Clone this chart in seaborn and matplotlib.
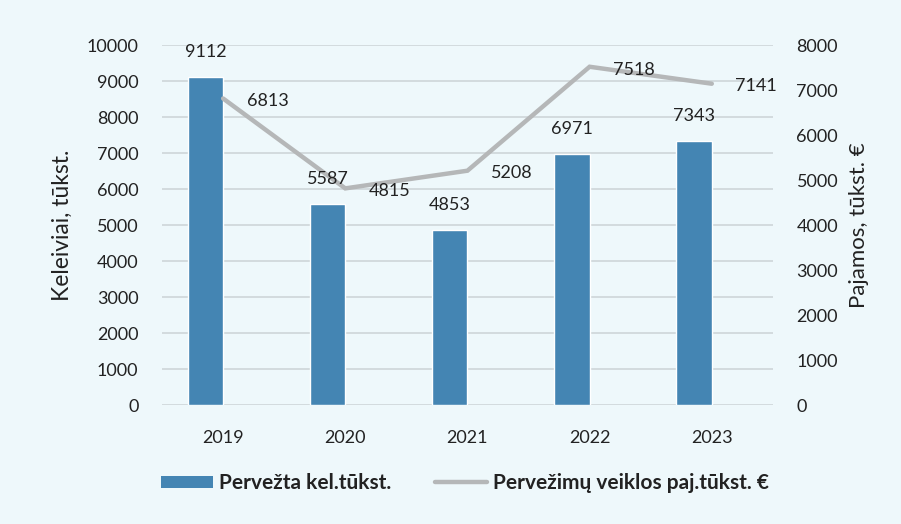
import pandas as pd
import matplotlib
matplotlib.use("Agg")
import matplotlib.pyplot as plt
from matplotlib.patches import Patch
from matplotlib.lines import Line2D
import seaborn as sns

# ── DATA ──────────────────────────────────────────────────────────────────────
years = [2019, 2020, 2021, 2022, 2023]
passengers = [9112, 5587, 4853, 6971, 7343]      # left axis, bars
revenue = [6813, 4815, 5208, 7518, 7141]         # right axis, line

BAR_LABEL = "Pervežta kel.tūkst."
LINE_LABEL = "Pervežimų veiklos paj.tūkst. €"

BG = "#eef8fb"
BAR = "#4485b3"
LINE = "#b5b7b8"
GRID = "#d3dbde"
TXT = "#222222"

sns.set_theme(style="white")
plt.rcParams["font.family"] = ["Lato", "DejaVu Sans"]
plt.rcParams["text.color"] = TXT

df = pd.DataFrame({"year": years, "value": passengers, "series": BAR_LABEL})

fig = plt.figure(figsize=(9.01, 5.24), dpi=100, facecolor=BG)
ax = fig.add_axes([0.1798, 0.227, 0.678, 0.687])
ax.set_facecolor(BG)

# second (empty) hue slot reproduces the Excel offset of the bars
sns.barplot(data=df, x="year", y="value", hue="series",
            hue_order=[BAR_LABEL, " "], palette=[BAR, BAR], saturation=1,
            native_scale=True, width=0.58, dodge=True, gap=0,
            legend=False, ax=ax)

ax.set_xlim(2018.5, 2023.5)
ax.set_ylim(0, 10000)
ax.set_yticks(range(0, 10001, 1000))
ax.set_xticks(years)
ax.set_xticklabels([str(y) for y in years])
ax.grid(axis="y", color=GRID, lw=1.4)
ax.set_axisbelow(True)
ax.tick_params(axis="y", length=0, pad=17, labelsize=13, labelcolor=TXT)
ax.tick_params(axis="x", length=0, pad=18, labelsize=13, labelcolor=TXT)
ax.set_xlabel("")
ax.set_ylabel("Keleiviai, tūkst.", fontsize=16.5, labelpad=10, color=TXT)
for s in ax.spines.values():
    s.set_visible(False)

# Right axis: revenue line
ax2 = ax.twinx()
sns.lineplot(x=years, y=revenue, color=LINE, lw=3.2, ax=ax2,
             solid_capstyle="round", solid_joinstyle="miter")
ax2.set_ylim(0, 8000)
ax2.set_yticks(range(0, 8001, 1000))
ax2.tick_params(axis="y", length=0, pad=17, labelsize=13, labelcolor=TXT)
ax2.set_ylabel("Pajamos, tūkst. €", fontsize=16, labelpad=8, color=TXT)
ax2.grid(False)
for s in ax2.spines.values():
    s.set_visible(False)

# bar labels drawn on the top axes so the line passes beneath them
bars = [p for p in ax.patches if p.get_height() > 0]
for bar, val in zip(bars, passengers):
    ax2.annotate(f"{val}", xy=(bar.get_x() + bar.get_width() / 2, val),
                 xycoords=ax.transData, xytext=(0, 18),
                 textcoords="offset points", ha="center", va="center",
                 fontsize=13)

for x, val in zip(years, revenue):
    ax2.annotate(f"{val}", xy=(x, val), xytext=(17, -2),
                 textcoords="offset points", ha="left", va="center",
                 fontsize=13)

handles = [Patch(facecolor=BAR, edgecolor="none"),
           Line2D([0], [0], color=LINE, lw=3.2)]
fig.legend(handles, [BAR_LABEL, LINE_LABEL], loc="center",
           bbox_to_anchor=(0.516, 0.078), ncol=2, frameon=False,
           prop={"size": 15, "weight": "bold"},
           handlelength=2.5, handleheight=0.5,
           handletextpad=0.3, columnspacing=2.1)

fig.savefig("out.png", dpi=100, facecolor=BG)
